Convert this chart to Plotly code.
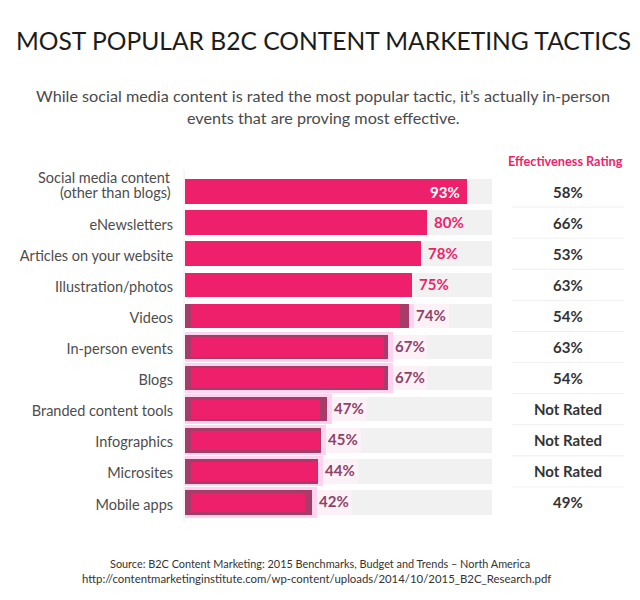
import plotly.graph_objects as go

tactics = ["Social media content<br>(other than blogs)", "eNewsletters", "Articles on your website",
           "Illustration/photos", "Videos", "In-person events", "Blogs",
           "Branded content tools", "Infographics", "Microsites", "Mobile apps"]
popularity = [93, 80, 78, 75, 74, 67, 67, 47, 45, 44, 42]
core_end = [93, 80, 78, 75, 71, 65.5, 65.5, 44.5, 44.5, 43.5, 39.5]
ratings = ["58%", "66%", "53%", "63%", "54%", "63%", "54%", "Not Rated", "Not Rated", "Not Rated", "49%"]
full_scale = [101.3] * 11

PINK = "#ee1f6b"
PLUM = "#8c4468"
# the page adds an 8px body margin, so the figure is 8px smaller and everything sits 8px up/left
PAGE = 8
W, H = 640 - PAGE, 600 - PAGE
X0, X1 = 185 - PAGE, 492 - PAGE
TOP, BOTTOM = 176.3 - PAGE, 517.8 - PAGE


def px(x):
    return (x - PAGE - X0) / (X1 - X0)


def py(y):
    return (BOTTOM - (y - PAGE)) / (BOTTOM - TOP)


fig = go.Figure()

# grey track behind each bar
fig.add_trace(go.Bar(y=tactics, x=full_scale, orientation="h", width=0.79,
                     marker=dict(color="#f1f1f1", line_width=0), hoverinfo="skip"))

# the lower rows carry a pink glow and a dark edge in the original
glow_rows = list(range(4, 11))
fig.add_trace(go.Bar(y=[tactics[i] for i in glow_rows],
                     x=[popularity[i] + 14.5 for i in glow_rows],
                     base=-1.5, orientation="h", width=0.79,
                     marker=dict(color="#fdf1f8", line_width=0), hoverinfo="skip"))
fig.add_trace(go.Bar(y=[tactics[i] for i in glow_rows],
                     x=[popularity[i] + 3 for i in glow_rows],
                     base=-1.5, orientation="h", width=[0.79 if i == 4 else 0.97 for i in glow_rows],
                     marker=dict(color="#fcd4f0", line_width=0), hoverinfo="skip"))

fig.add_trace(go.Bar(y=tactics, x=popularity, orientation="h", width=0.79,
                     marker=dict(color=[PINK if i < 4 else "#a83c68" for i in range(11)], line_width=0),
                     hoverinfo="skip"))
fig.add_trace(go.Bar(y=[tactics[i] for i in glow_rows],
                     x=[core_end[i] - 2 for i in glow_rows],
                     base=2, orientation="h", width=[0.79 if i == 4 else 0.62 for i in glow_rows],
                     marker=dict(color=PINK, line_width=0), hoverinfo="skip"))

# value labels
for i, (name, value) in enumerate(zip(tactics, popularity)):
    if i == 0:
        fig.add_annotation(x=value - 1.5, y=name, text=f"<b>{value}%</b>", showarrow=False, xanchor="right",
                           font=dict(family="Lato", size=15, color="#ffffff"))
    else:
        fig.add_annotation(x=value + 1.6, y=name, text=f"<b>{value}%</b>", showarrow=False, xanchor="left",
                           yshift=1, font=dict(family="Lato", size=15, color=PINK if i < 4 else PLUM))

# effectiveness column
for i, (name, rating) in enumerate(zip(tactics, ratings)):
    fig.add_annotation(x=px(568), xref="paper", y=name, text=f"<b>{rating}</b>", showarrow=False,
                       xanchor="center", font=dict(family="Lato", size=15, color="#333333"))
    if i < 10:
        fig.add_shape(type="line", xref="paper", x0=px(512), x1=px(624), y0=i + 0.5, y1=i + 0.5,
                      line=dict(color="#efefef", width=1))


def page_text(x, y, text, size, color="#4a4a4a", anchor="center"):
    fig.add_annotation(x=px(x), y=py(y), xref="paper", yref="paper", text=text, showarrow=False,
                       font=dict(family="Lato", size=size, color=color), xanchor=anchor, yanchor="middle")


# stray vertical rule at the start of the bars
fig.add_shape(type="line", xref="paper", yref="paper", x0=px(184), x1=px(184), y0=py(522), y1=py(170),
              line=dict(color="#eeeeee", width=1))

page_text(323, 41, "MOST POPULAR B2C CONTENT MARKETING TACTICS", 24.6, "#1c1c1c")
page_text(323, 96, "While social media content is rated the most popular tactic, it’s actually in-person", 16.2)
page_text(323, 118, "events that are proving most effective.", 16.2)
page_text(565, 161, "<b>Effectiveness Rating</b>", 12.7, PINK)
page_text(320, 563, "Source: B2C Content Marketing: 2015 Benchmarks, Budget and Trends – North America", 10.9, "#333333")
page_text(316, 578, "http://contentmarketinginstitute.com/wp-content/uploads/2014/10/2015_B2C_Research.pdf", 11.4, "#333333")

# first label wraps tighter than plotly's line height, so it is set as two texts
first_label = tactics[0].split("<br>")
page_text(173, 178, first_label[0], 14.5, "#4d4d4d", anchor="right")
page_text(173, 193, first_label[1], 14.5, "#4d4d4d", anchor="right")

fig.update_layout(
    width=W, height=H, autosize=False, barmode="overlay", showlegend=False,
    paper_bgcolor="white", plot_bgcolor="white", bargap=0,
    margin=dict(l=X0, r=W - X1, t=TOP, b=H - BOTTOM, autoexpand=False),
    xaxis=dict(range=[0, 101.3], visible=False),
    yaxis=dict(autorange=False, range=[10.5, -0.5], type="category", categoryorder="array", categoryarray=tactics,
               tickmode="array", tickvals=tactics, ticktext=[""] + tactics[1:], ticklabelshift=-2,
               showgrid=False, zeroline=False, showline=False, ticks="outside", ticklen=8,
               tickcolor="rgba(0,0,0,0)", tickfont=dict(family="Lato", size=14.5, color="#4d4d4d")),
)

fig.write_html("out.html")
